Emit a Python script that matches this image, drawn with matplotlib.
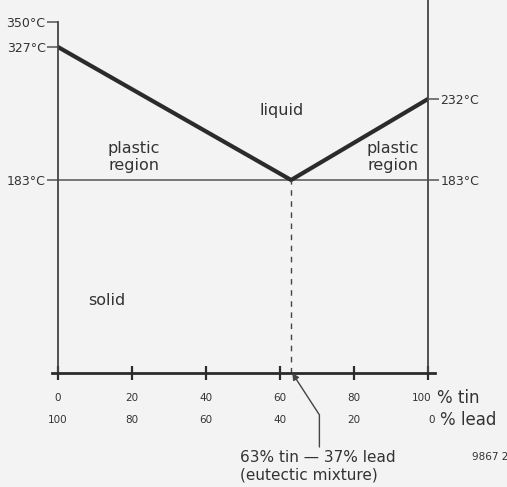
import matplotlib.pyplot as plt
import numpy as np

# tin-lead phase diagram (schematic, temperature axis not linear)
tin_pct = [0, 63, 100]
liquidus = [327, 183, 232]
eutectic_tin = 63
eutectic_temp = 183
tick_tin = [0, 20, 40, 60, 80, 100]
tick_lead = [100, 80, 60, 40, 20, 0]
left_temps = [183, 327, 350]
right_temps = [183, 232]

# knots of the drawn (uneven) temperature scale
t_knots = [0, 183, 232, 327, 370]
p_knots = [-193, 0, 81, 133, 180]


def fwd(t):
    return np.interp(t, t_knots, p_knots)


def inv(p):
    return np.interp(p, p_knots, t_knots)


bg = '#f3f3f3'
ink = '#2b2b2b'

fig = plt.figure(figsize=(5.07, 4.87), dpi=100, facecolor=bg)
ax = fig.add_axes([58 / 507, 1 - 373 / 487, 370 / 507, 373 / 487])
ax.set_facecolor(bg)
ax.set_yscale('function', functions=(fwd, inv))
ax.set_xlim(0, 100)
ax.set_ylim(0, 370)

# axes frame
ax.spines['top'].set_visible(False)
ax.spines['left'].set_bounds(-4, 350)
ax.spines['bottom'].set_bounds(-1.5, 102)
for s in ['left', 'right']:
    ax.spines[s].set_color('#444444')
    ax.spines[s].set_linewidth(1.3)
ax.spines['bottom'].set_color(ink)
ax.spines['bottom'].set_linewidth(2)

# solidus line, liquidus, eutectic drop
ax.plot([0, 100], [eutectic_temp, eutectic_temp], color='#555555', lw=1.1)
ax.plot(tin_pct, liquidus, color=ink, lw=3, solid_joinstyle='miter')
ax.plot([eutectic_tin, eutectic_tin], [0, eutectic_temp], color='#444444',
        lw=1, ls=(0, (4, 4)))

# x ticks: two label rows
ax.set_xticks(tick_tin)
ax.set_xticklabels([])
ax.tick_params(axis='x', direction='inout', length=10, width=1.6, color=ink)
for x, a, b in zip(tick_tin, tick_tin, tick_lead):
    xa = x - 1.6 if a == 100 else x
    xb = x + 1 if b == 0 else x
    ax.text(xa, -0.067, str(a), transform=ax.get_xaxis_transform(),
            ha='center', va='center', fontsize=7.5, color='#333333')
    ax.text(xb, -0.126, str(b), transform=ax.get_xaxis_transform(),
            ha='center', va='center', fontsize=7.5, color='#333333')
ax.text(102.5, -0.067, '% tin', transform=ax.get_xaxis_transform(),
        ha='left', va='center', fontsize=12, color='#333333')
ax.text(103.3, -0.126, '% lead', transform=ax.get_xaxis_transform(),
        ha='left', va='center', fontsize=12, color='#333333')

# y ticks left
ax.set_yticks(left_temps)
ax.set_yticklabels([f'{t}°C' for t in left_temps], fontsize=9, color='#333333')
ax.tick_params(axis='y', direction='out', length=8, width=1.1,
               color='#555555', pad=1)
ax.minorticks_off()

# y ticks right
ax2 = ax.twinx()
ax2.set_yscale('function', functions=(fwd, inv))
ax2.set_ylim(ax.get_ylim())
for s in ax2.spines.values():
    s.set_visible(False)
ax2.set_yticks(right_temps)
ax2.set_yticklabels([f'{t}°C' for t in right_temps], fontsize=9,
                    color='#333333')
ax2.tick_params(axis='y', direction='out', length=8, width=1.1,
                color='#555555', pad=1)
ax2.minorticks_off()

# region labels
lab = dict(ha='center', va='center', fontsize=11.5, color='#333333')
ax.text(60.5, 225, 'liquid', **lab)
ax.text(20.5, 197, 'plastic\nregion', **lab)
ax.text(90.5, 197, 'plastic\nregion', **lab)
ax.text(13.3, 69, 'solid', **lab)

# eutectic annotation
ax.annotate('63% tin — 37% lead\n(eutectic mixture)',
            xy=(eutectic_tin + 0.3, -3), xycoords='data',
            xytext=(49.2, -0.25), textcoords=ax.get_xaxis_transform(),
            ha='left', va='center', fontsize=11, color='#333333',
            linespacing=1.25, annotation_clip=False,
            arrowprops=dict(arrowstyle='-|>', color='#444444', lw=1,
                            mutation_scale=10, shrinkA=0, shrinkB=0,
                            relpos=(0.51, 1.0),
                            connectionstyle='angle,angleA=90,angleB=-57,rad=0'))

fig.text(472 / 507, 1 - 457 / 487, '9867 2', fontsize=7.5, color='#333333',
         ha='left', va='center')

fig.savefig('out.png', dpi=100, facecolor=bg)
